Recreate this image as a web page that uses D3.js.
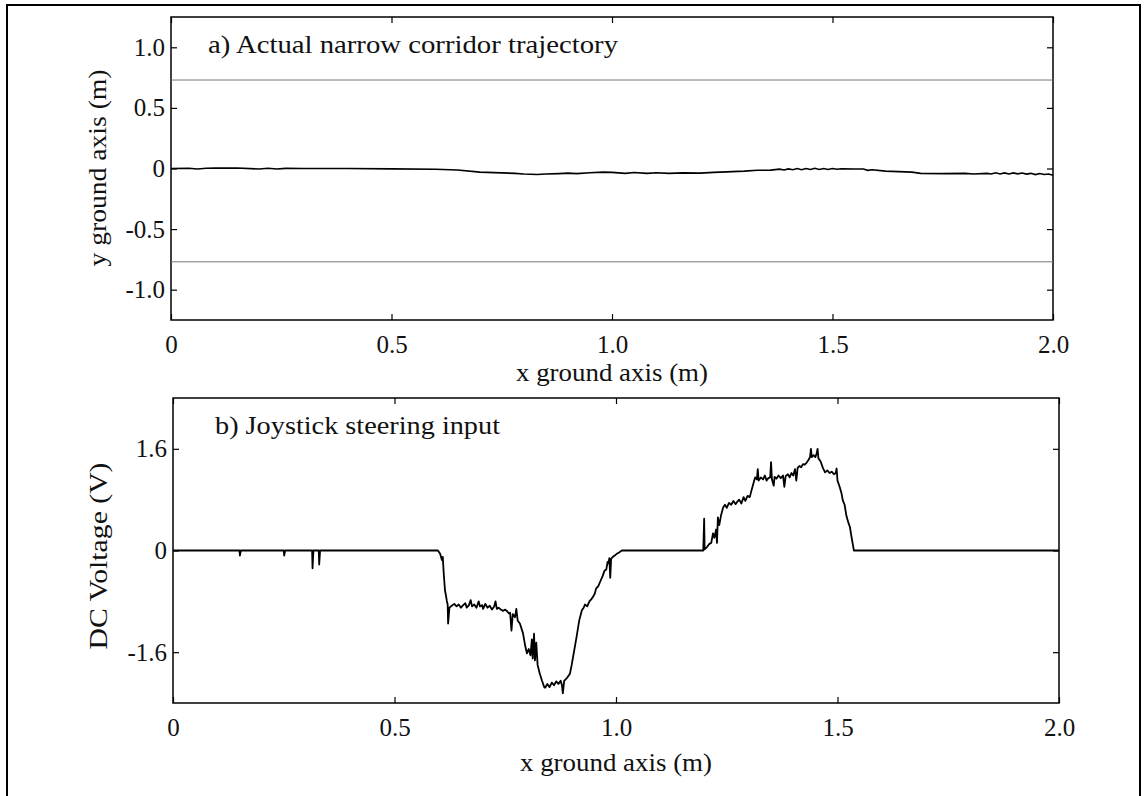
<!DOCTYPE html>
<html>
<head>
<meta charset="utf-8">
<script src="https://cdn.jsdelivr.net/npm/d3@7"></script>
<style>
  body { margin: 0; background: #fff; }
  svg text { font-family: "Liberation Serif", "DejaVu Serif", serif !important; fill: #111; }
</style>
</head>
<body>
<script>
// ---- data ----
const xTicks = [0, 0.5, 1.0, 1.5, 2.0];
const yTicksTop = [1.0, 0.5, 0, -0.5, -1.0];
const yTicksBottom = [1.6, 0, -1.6];
const corridor = [0.73, -0.77];

// a) trajectory [x (m), y (m)]
const trajectory = [
  [0,0],[0.04,0.002],[0.06,-0.004],[0.08,0.002],[0.1,0.003],[0.15,0.004],[0.2,-0.004],[0.22,0.002],
  [0.24,-0.004],[0.26,0.001],[0.3,0],[0.4,0],[0.5,-0.003],[0.6,-0.006],[0.65,-0.012],[0.7,-0.03],
  [0.75,-0.036],[0.78,-0.04],[0.8,-0.045],[0.83,-0.05],[0.85,-0.046],[0.88,-0.042],[0.9,-0.038],
  [0.92,-0.042],[0.95,-0.035],[0.98,-0.03],[1.0,-0.032],[1.03,-0.04],[1.05,-0.033],[1.08,-0.04],
  [1.1,-0.035],[1.13,-0.04],[1.16,-0.036],[1.2,-0.038],[1.23,-0.032],[1.26,-0.028],[1.3,-0.022],
  [1.33,-0.015],[1.36,-0.013],[1.38,-0.005],[1.39,-0.012],[1.4,-0.003],[1.41,-0.01],[1.42,0.0],
  [1.43,-0.01],[1.44,0.0],[1.45,-0.008],[1.46,0.002],[1.47,-0.008],[1.48,0.0],[1.49,-0.008],
  [1.5,0.0],[1.51,-0.006],[1.52,-0.002],[1.55,-0.004],[1.57,-0.004],[1.58,-0.015],[1.59,-0.01],
  [1.62,-0.022],[1.65,-0.026],[1.68,-0.03],[1.7,-0.04],[1.75,-0.042],[1.8,-0.04],[1.82,-0.045],
  [1.85,-0.04],[1.86,-0.045],[1.87,-0.035],[1.88,-0.045],[1.89,-0.036],[1.9,-0.045],[1.91,-0.036],
  [1.92,-0.044],[1.93,-0.037],[1.94,-0.046],[1.95,-0.04],[1.96,-0.05],[1.97,-0.042],[1.98,-0.05],
  [1.99,-0.045],[2.0,-0.055]
];

// b) joystick input [x (m), voltage (V)]
const joystick = [
  [0,0],[0.15,0],[0.151,-0.08],[0.153,0],[0.25,0],[0.251,-0.08],[0.253,0],[0.314,0],[0.315,-0.28],
  [0.317,0],[0.329,0],[0.330,-0.22],[0.332,0],[0.598,0],
  [0.603,-0.05],[0.607,-0.15],[0.609,-0.1],[0.611,-0.35],[0.614,-0.63],[0.616,-0.7],[0.618,-0.79],
  [0.62,-0.85],[0.621,-1.15],[0.624,-0.9],[0.629,-0.87],[0.635,-0.84],[0.64,-0.88],[0.645,-0.85],
  [0.65,-0.9],[0.655,-0.86],[0.66,-0.83],[0.663,-0.9],[0.668,-0.86],[0.672,-0.78],[0.675,-0.88],
  [0.68,-0.85],[0.685,-0.9],[0.69,-0.8],[0.693,-0.88],[0.698,-0.86],[0.70,-0.92],[0.705,-0.84],
  [0.71,-0.9],[0.715,-0.87],[0.72,-0.93],[0.725,-0.88],[0.728,-0.8],[0.731,-0.92],[0.735,-0.9],
  [0.74,-0.93],[0.745,-0.95],[0.75,-0.93],[0.755,-0.96],[0.758,-0.99],[0.761,-0.98],[0.764,-1.26],
  [0.767,-1.0],[0.772,-1.05],[0.775,-0.92],[0.778,-1.1],[0.783,-1.15],[0.79,-1.3],[0.795,-1.5],
  [0.799,-1.62],[0.803,-1.55],[0.807,-1.65],[0.81,-1.4],[0.812,-1.7],[0.815,-1.31],[0.817,-1.73],
  [0.82,-1.45],[0.823,-1.8],[0.828,-1.94],[0.833,-2.05],[0.838,-2.15],[0.84,-2.16],[0.845,-2.1],
  [0.85,-2.15],[0.855,-2.08],[0.86,-2.12],[0.865,-2.06],[0.87,-2.1],[0.875,-2.05],[0.878,-2.12],
  [0.88,-2.25],[0.883,-2.05],[0.89,-2.0],[0.896,-1.94],[0.90,-1.8],[0.905,-1.6],[0.911,-1.36],
  [0.917,-1.1],[0.923,-0.94],[0.927,-0.9],[0.93,-0.85],[0.935,-0.88],[0.94,-0.8],[0.945,-0.76],
  [0.948,-0.73],[0.952,-0.68],[0.955,-0.6],[0.96,-0.56],[0.965,-0.48],[0.97,-0.4],[0.974,-0.32],
  [0.978,-0.3],[0.981,-0.18],[0.983,-0.2],[0.985,-0.12],[0.987,-0.43],[0.989,-0.13],[0.993,-0.1],
  [0.997,-0.08],[1.002,-0.05],[1.007,-0.03],[1.013,0],[1.197,0],
  [1.199,0.5],[1.200,0.02],[1.205,0.05],[1.21,0.1],[1.215,0.12],[1.219,0.27],[1.222,0.2],
  [1.226,0.33],[1.228,0.12],[1.230,0.52],[1.233,0.4],[1.237,0.55],[1.242,0.68],[1.246,0.72],
  [1.25,0.67],[1.255,0.75],[1.26,0.72],[1.265,0.78],[1.27,0.73],[1.273,0.76],[1.278,0.8],
  [1.283,0.74],[1.288,0.84],[1.292,0.78],[1.297,0.86],[1.302,0.84],[1.306,0.95],[1.31,1.05],
  [1.314,1.15],[1.318,1.12],[1.32,1.28],[1.322,1.1],[1.327,1.15],[1.332,1.12],[1.336,1.18],
  [1.34,1.1],[1.344,1.14],[1.348,1.15],[1.35,1.39],[1.352,1.12],[1.356,1.02],[1.358,1.16],
  [1.362,1.13],[1.367,1.18],[1.372,1.14],[1.377,1.18],[1.38,1.0],[1.383,1.17],[1.388,1.2],
  [1.392,1.15],[1.396,1.22],[1.4,1.18],[1.404,1.28],[1.407,1.1],[1.41,1.3],[1.414,1.33],
  [1.418,1.31],[1.422,1.36],[1.426,1.35],[1.43,1.38],[1.434,1.42],[1.438,1.47],[1.44,1.6],
  [1.442,1.47],[1.446,1.5],[1.45,1.47],[1.453,1.53],[1.455,1.6],[1.457,1.45],[1.462,1.4],
  [1.467,1.3],[1.472,1.23],[1.477,1.26],[1.482,1.22],[1.487,1.24],[1.492,1.2],[1.496,1.22],
  [1.498,1.29],[1.5,1.1],[1.505,1.0],[1.509,0.9],[1.512,0.79],[1.516,0.72],[1.52,0.55],
  [1.524,0.45],[1.528,0.37],[1.532,0.2],[1.537,0],[2.0,0]
];

const W = 1145, H = 796;
const svg = d3.select("body").append("svg")
    .attr("width", W)
    .attr("height", H)
    .attr("font-family", "Liberation Serif, DejaVu Serif, serif");

// outer frame (runs off the bottom of the page)
svg.append("rect")
    .attr("x", 7).attr("y", 5)
    .attr("width", 1133).attr("height", 900)
    .attr("fill", "none").attr("stroke", "#000").attr("stroke-width", 2);

// tick format: hyphen minus, "0" without decimals
const fmt = d => d === 0 ? "0" : d3.format(".1f")(d).replace("\u2212", "-");

function panel(opt) {
    const x = d3.scaleLinear().domain([0, 2]).range([opt.left, opt.right]);
    const y = d3.scaleLinear().domain(opt.yDomain).range([opt.bottom, opt.top]);

    const g = svg.append("g");

    // bottom axis with labels
    const xa = g.append("g")
        .attr("transform", `translate(0,${opt.bottom})`)
        .call(d3.axisBottom(x).tickValues(xTicks).tickFormat(fmt).tickSize(-6).tickSizeOuter(0));
    xa.selectAll("text").attr("y", 33).attr("dy", null);

    // top mirror ticks
    g.append("g")
        .attr("transform", `translate(0,${opt.top})`)
        .call(d3.axisTop(x).tickValues(xTicks).tickFormat("").tickSize(-6).tickSizeOuter(0));

    // left axis with labels
    g.append("g")
        .attr("transform", `translate(${opt.left},0)`)
        .call(d3.axisLeft(y).tickValues(opt.yTicks).tickFormat(fmt).tickSize(-6).tickPadding(6).tickSizeOuter(0));

    // right mirror ticks
    g.append("g")
        .attr("transform", `translate(${opt.right},0)`)
        .call(d3.axisRight(y).tickValues(opt.yTicks).tickFormat("").tickSize(-6).tickSizeOuter(0));

    g.selectAll(".domain").remove();
    g.selectAll("g").attr("font-family", null).attr("font-size", null);
    g.selectAll(".tick line").attr("stroke", "#000").attr("stroke-width", 1.2);
    g.selectAll(".tick text")
        .attr("font-size", 25)
        .attr("fill", "#111");

    // plot frame
    g.append("rect")
        .attr("x", opt.left).attr("y", opt.top)
        .attr("width", opt.right - opt.left).attr("height", opt.bottom - opt.top)
        .attr("fill", "none").attr("stroke", "#000").attr("stroke-width", 1.5);

    // axis titles
    g.append("text")
        .attr("x", (opt.left + opt.right) / 2)
        .attr("y", opt.bottom + opt.xTitleDy)
        .attr("text-anchor", "middle")
        .attr("font-size", 25)
        .attr("textLength", 192).attr("lengthAdjust", "spacingAndGlyphs")
        .text("x ground axis (m)");

    g.append("text")
        .attr("transform", `translate(${opt.yTitleX},${opt.yTitleY}) rotate(-90)`)
        .attr("text-anchor", "middle")
        .attr("font-size", 25)
        .attr("textLength", opt.yTitleLen).attr("lengthAdjust", "spacingAndGlyphs")
        .text(opt.yTitle);

    // panel caption
    g.append("text")
        .attr("x", opt.left + opt.capDx)
        .attr("y", opt.top + 36)
        .attr("font-size", 25)
        .attr("textLength", opt.capLen).attr("lengthAdjust", "spacingAndGlyphs")
        .text(opt.caption);

    return {g, x, y};
}

// ---- a) trajectory ----
const a = panel({
    left: 171, right: 1053, top: 17, bottom: 320,
    yDomain: [-1.25, 1.25], yTicks: yTicksTop,
    xTitleDy: 61, yTitle: "y ground axis (m)", yTitleX: 106, yTitleY: 168, yTitleLen: 197,
    caption: "a) Actual narrow corridor trajectory", capDx: 37, capLen: 410
});

a.g.selectAll(".corridor")
    .data(corridor)
    .enter().append("line")
    .attr("x1", a.x(0)).attr("x2", a.x(2))
    .attr("y1", d => a.y(d)).attr("y2", d => a.y(d))
    .attr("stroke", "#777").attr("stroke-width", 1);

a.g.append("path")
    .datum(trajectory)
    .attr("fill", "none")
    .attr("stroke", "#000")
    .attr("stroke-width", 1.6)
    .attr("d", d3.line().x(d => a.x(d[0])).y(d => a.y(d[1])));

// ---- b) joystick ----
const b = panel({
    left: 173, right: 1059, top: 398, bottom: 703,
    yDomain: [-2.4, 2.4], yTicks: yTicksBottom,
    xTitleDy: 68, yTitle: "DC Voltage (V)", yTitleX: 107, yTitleY: 556, yTitleLen: 187,
    caption: "b) Joystick steering input", capDx: 42, capLen: 285
});

b.g.append("path")
    .datum(joystick)
    .attr("fill", "none")
    .attr("stroke", "#000")
    .attr("stroke-width", 1.8)
    .attr("stroke-linejoin", "round")
    .attr("d", d3.line().x(d => b.x(d[0])).y(d => b.y(d[1])));
</script>
</body>
</html>
